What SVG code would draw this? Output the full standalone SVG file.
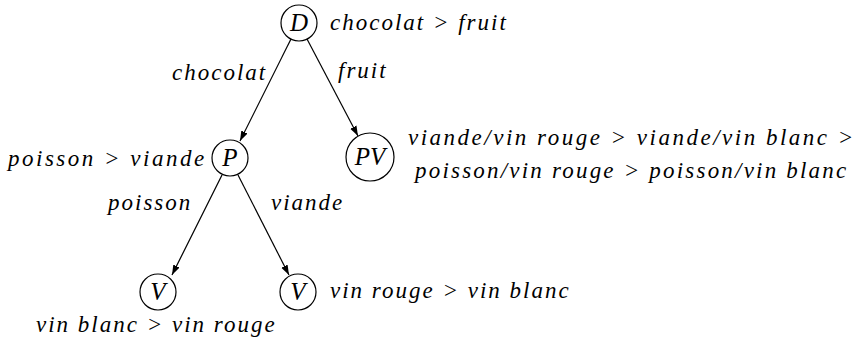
<svg xmlns="http://www.w3.org/2000/svg" width="857" height="342" viewBox="0 0 857 342">
<style>
.node circle{fill:#fff;stroke:#000;stroke-width:1.2}
.t{font-family:'Liberation Serif','Times New Roman',serif;font-style:italic;font-size:23px;letter-spacing:2px;fill:#000}
.w{letter-spacing:2.5px}
.w2{letter-spacing:2.2px}
.n{font-size:25px;letter-spacing:0}
.edge{stroke:#000;stroke-width:1.2;fill:none;marker-end:url(#arr)}
</style>
<defs>
<marker id="arr" viewBox="0 0 10 10" refX="10" refY="5" markerWidth="10" markerHeight="10" markerUnits="userSpaceOnUse" orient="auto">
<path d="M0,1.5 L10,5 L0,8.5 Z" fill="#000"/>
</marker>
</defs>
<g id="connectors">
<line class="edge" x1="291" y1="39" x2="240" y2="141"/>
<line class="edge" x1="307" y1="39" x2="358" y2="136"/>
<line class="edge" x1="222" y1="175" x2="172" y2="275"/>
<line class="edge" x1="238" y1="175" x2="289" y2="275"/>
<text class="t" x="172" y="80">chocolat</text>
<text class="t" x="338" y="78">fruit</text>
<text class="t" x="108" y="210">poisson</text>
<text class="t" x="271" y="210">viande</text>
</g>
<g id="node-D" class="node">
<circle cx="299" cy="23" r="18"/>
<text class="t n" x="299" y="31" text-anchor="middle">D</text>
<text class="t" x="330" y="30">chocolat &gt; fruit</text>
</g>
<g id="node-P" class="node">
<circle cx="230" cy="158" r="18"/>
<text class="t n" x="230" y="166" text-anchor="middle">P</text>
<text class="t w" x="8" y="166">poisson &gt; viande</text>
</g>
<g id="node-PV" class="node">
<circle cx="370" cy="157" r="24"/>
<text class="t n" x="370" y="165" text-anchor="middle">PV</text>
<text class="t w" x="408" y="145">viande/vin rouge &gt; viande/vin blanc &gt;</text>
<text class="t w2" x="415" y="178">poisson/vin rouge &gt; poisson/vin blanc</text>
</g>
<g id="node-V1" class="node">
<circle cx="158" cy="292" r="18"/>
<text class="t n" x="158" y="300" text-anchor="middle">V</text>
<text class="t" x="36" y="332">vin blanc &gt; vin rouge</text>
</g>
<g id="node-V2" class="node">
<circle cx="298" cy="292" r="18"/>
<text class="t n" x="298" y="300" text-anchor="middle">V</text>
<text class="t" x="330" y="298">vin rouge &gt; vin blanc</text>
</g>
</svg>
